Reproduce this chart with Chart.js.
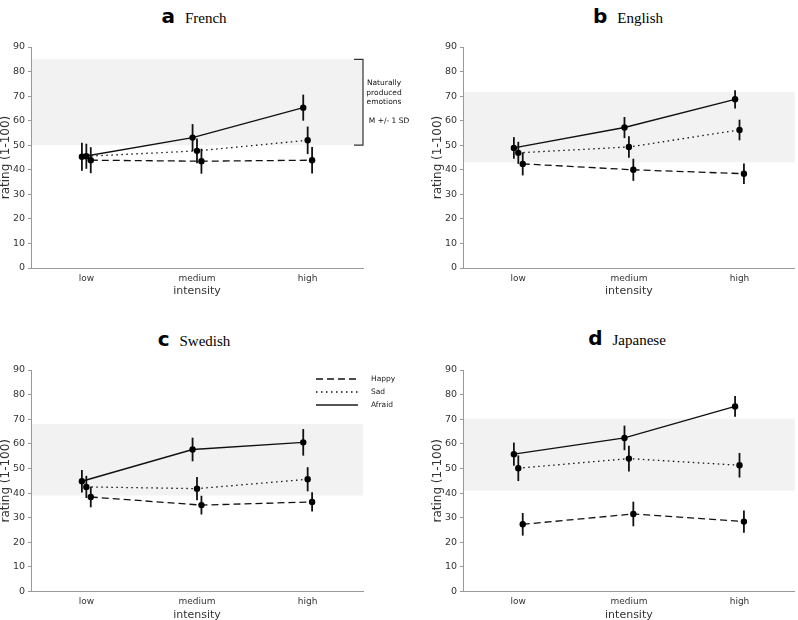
<!DOCTYPE html>
<html><head><meta charset="utf-8">
<script src="https://cdn.jsdelivr.net/npm/chart.js@4"></script>
<style>
html,body{margin:0;padding:0;background:#fff;}
body{width:798px;height:620px;position:relative;overflow:hidden;}
canvas{position:absolute;}
.title{position:absolute;white-space:nowrap;transform:translate(-50%,0);line-height:1;color:#000;}
.title b{font-family:"DejaVu Sans";font-weight:bold;font-size:20px;}
.title span{font-family:"Liberation Serif";font-size:15px;margin-left:10px;}
</style></head>
<body>
<div class="title" style="left:194px;top:6px;"><b>a</b><span>French</span></div>
<div class="title" style="left:628px;top:6px;"><b>b</b><span>English</span></div>
<div class="title" style="left:194px;top:329px;"><b>c</b><span>Swedish</span></div>
<div class="title" style="left:627px;top:328px;"><b>d</b><span>Japanese</span></div>
<canvas id="cb" width="398" height="320" style="left:400px;top:0"></canvas>
<canvas id="cd" width="398" height="320" style="left:400px;top:310px"></canvas>
<canvas id="ca" width="430" height="320" style="left:0;top:0"></canvas>
<canvas id="cc" width="430" height="320" style="left:0;top:310px"></canvas>
<script>
// ---- data ----
const categories = ['low', 'medium', 'high'];
const yTicks = [0, 10, 20, 30, 40, 50, 60, 70, 80, 90];
const legendOrder = ['Happy', 'Sad', 'Afraid'];

const frenchHappy = [43.9, 43.5, 43.9];
const frenchHappyErr = [5.3, 5.1, 5.4];
const frenchSad = [45.5, 47.7, 52.0];
const frenchSadErr = [5.1, 5.0, 5.6];
const frenchAfraid = [45.3, 53.1, 65.3];
const frenchAfraidErr = [5.7, 5.5, 5.3];
const frenchBand = [50.0, 85.0];

const englishHappy = [42.4, 40.0, 38.4];
const englishHappyErr = [4.7, 4.5, 4.2];
const englishSad = [46.9, 49.3, 56.2];
const englishSadErr = [4.5, 4.4, 4.2];
const englishAfraid = [48.9, 57.2, 68.7];
const englishAfraidErr = [4.4, 4.3, 3.7];
const englishBand = [43.0, 71.6];

const swedishHappy = [38.4, 35.1, 36.4];
const swedishHappyErr = [4.2, 3.8, 3.9];
const swedishSad = [42.5, 41.8, 45.6];
const swedishSadErr = [4.5, 4.7, 4.9];
const swedishAfraid = [44.8, 57.7, 60.6];
const swedishAfraidErr = [4.6, 4.8, 5.4];
const swedishBand = [39.0, 68.1];

const japaneseHappy = [27.3, 31.5, 28.4];
const japaneseHappyErr = [4.6, 5.0, 4.5];
const japaneseSad = [50.1, 54.0, 51.3];
const japaneseSadErr = [5.2, 5.2, 5.0];
const japaneseAfraid = [55.8, 62.4, 75.2];
const japaneseAfraidErr = [4.7, 5.0, 4.2];
const japaneseBand = [41.0, 70.2];

const noteLines = ['Naturally', 'produced', 'emotions'];
const noteSD = 'M +/- 1 SD';

// ---- drawing ----
Chart.defaults.font.family = '"DejaVu Sans"';
Chart.defaults.color = '#333';

const OFF = {Happy: 0.04, Sad: 0, Afraid: -0.04};
const STYLE = {
  Happy: {dash: [7, 4], width: 1.3},
  Sad: {dash: [1.5, 3.5], width: 1.3},
  Afraid: {dash: [], width: 1.4}
};

function ds(name, vals, errs) {
  return {
    label: name,
    data: vals.map((v, i) => ({x: i + OFF[name], y: v})),
    errors: errs,
    borderColor: '#111',
    borderWidth: STYLE[name].width,
    borderDash: STYLE[name].dash,
    pointRadius: 3.2,
    pointHoverRadius: 3.2,
    pointBackgroundColor: '#000',
    pointBorderWidth: 0,
    fill: false,
    tension: 0
  };
}

function makeChart(id, cfg) {
  const bandPlugin = {
    id: 'band',
    beforeDraw(chart) {
      const {ctx, chartArea: a, scales: {y}} = chart;
      ctx.save();
      ctx.fillStyle = '#f2f2f2';
      const t = y.getPixelForValue(cfg.band[1]), b = y.getPixelForValue(cfg.band[0]);
      ctx.fillRect(a.left, t, a.right - a.left, b - t);
      ctx.restore();
    }
  };
  const errPlugin = {
    id: 'errbars',
    beforeDatasetsDraw(chart) {
      const {ctx, scales: {y}} = chart;
      ctx.save();
      ctx.strokeStyle = '#111';
      ctx.lineWidth = 1.8;
      ctx.setLineDash([]);
      chart.data.datasets.forEach((d, di) => {
        const meta = chart.getDatasetMeta(di);
        meta.data.forEach((pt, i) => {
          const v = d.data[i].y, e = d.errors[i];
          ctx.beginPath();
          ctx.moveTo(pt.x, y.getPixelForValue(v - e));
          ctx.lineTo(pt.x, y.getPixelForValue(v + e));
          ctx.stroke();
        });
      });
      ctx.restore();
    }
  };
  const extraPlugin = {
    id: 'extra',
    afterDraw(chart) {
      const {ctx, chartArea: a, scales: {y}} = chart;
      ctx.save();
      if (cfg.note) {
        const y1 = y.getPixelForValue(cfg.band[1]), y2 = y.getPixelForValue(cfg.band[0]);
        ctx.strokeStyle = '#333';
        ctx.lineWidth = 1.2;
        ctx.beginPath();
        ctx.moveTo(a.right - 9, y1); ctx.lineTo(a.right, y1);
        ctx.lineTo(a.right, y2); ctx.lineTo(a.right - 9, y2);
        ctx.stroke();
        const mid = (y1 + y2) / 2;
        ctx.fillStyle = '#111';
        ctx.font = '7.5px "DejaVu Sans"';
        ctx.textAlign = 'center';
        ctx.textBaseline = 'middle';
        noteLines.forEach((t, i) => ctx.fillText(t, a.right + 21, mid - 19 + 9.5 * i));
        ctx.fillText(noteSD, a.right + 26, mid + 19);
      }
      if (cfg.legend) {
        ctx.font = '7.5px "DejaVu Sans"';
        ctx.fillStyle = '#222';
        ctx.textAlign = 'left';
        ctx.textBaseline = 'middle';
        legendOrder.forEach((name, i) => {
          const d = chart.data.datasets.find(q => q.label === name);
          const yy = a.top + 9 + 13 * i;
          ctx.strokeStyle = name === 'Afraid' ? '#555' : '#111';
          ctx.lineWidth = name === 'Afraid' ? 1.8 : d.borderWidth;
          ctx.setLineDash(d.borderDash);
          ctx.beginPath();
          ctx.moveTo(a.right - 47, yy); ctx.lineTo(a.right - 5, yy);
          ctx.stroke();
          ctx.fillText(name, a.right + 8, yy);
        });
      }
      ctx.restore();
    }
  };
  return new Chart(document.getElementById(id), {
    type: 'line',
    data: {datasets: [
      ds('Happy', cfg.happy, cfg.happyErr),
      ds('Sad', cfg.sad, cfg.sadErr),
      ds('Afraid', cfg.afraid, cfg.afraidErr)
    ]},
    options: {
      responsive: false,
      animation: false,
      devicePixelRatio: 1,
      events: [],
      layout: {padding: cfg.pad},
      plugins: {legend: {display: false}, tooltip: {enabled: false}},
      scales: {
        x: {
          type: 'linear', min: -0.5, max: 2.5,
          afterBuildTicks: s => { s.ticks = categories.map((c, i) => ({value: i})); },
          ticks: {callback: (v, i) => categories[i], font: {size: 9}, color: '#333', padding: 5, autoSkip: false, maxRotation: 0},
          grid: {display: false, drawTicks: false},
          border: {color: '#999', width: 1},
          title: {display: true, text: 'intensity', font: {size: 11, lineHeight: 1}, color: '#333', padding: 0},
          afterFit: s => { s.height = 29; }
        },
        y: {
          min: 0, max: 90,
          afterBuildTicks: s => { s.ticks = yTicks.map(v => ({value: v})); },
          ticks: {font: {size: 9.5}, color: '#333', padding: 3},
          grid: {display: true, drawOnChartArea: false, drawTicks: true, tickLength: 3, color: '#999'},
          border: {color: '#999', width: 1},
          title: {display: true, text: 'rating (1-100)', font: {size: 12, lineHeight: 1}, color: '#333', padding: 0},
          afterFit: s => { s.width = cfg.yW; }
        }
      }
    },
    plugins: [bandPlugin, errPlugin, extraPlugin]
  });
}

makeChart('ca', {happy: frenchHappy, happyErr: frenchHappyErr, sad: frenchSad, sadErr: frenchSadErr,
  afraid: frenchAfraid, afraidErr: frenchAfraidErr, band: frenchBand, note: true,
  pad: {left: 0, top: 47, right: 67, bottom: 23}, yW: 31});
makeChart('cb', {happy: englishHappy, happyErr: englishHappyErr, sad: englishSad, sadErr: englishSadErr,
  afraid: englishAfraid, afraidErr: englishAfraidErr, band: englishBand,
  pad: {left: 32, top: 47, right: 1, bottom: 23}, yW: 31});
makeChart('cc', {happy: swedishHappy, happyErr: swedishHappyErr, sad: swedishSad, sadErr: swedishSadErr,
  afraid: swedishAfraid, afraidErr: swedishAfraidErr, band: swedishBand, legend: true,
  pad: {left: 0, top: 60, right: 67, bottom: 9.5}, yW: 31});
makeChart('cd', {happy: japaneseHappy, happyErr: japaneseHappyErr, sad: japaneseSad, sadErr: japaneseSadErr,
  afraid: japaneseAfraid, afraidErr: japaneseAfraidErr, band: japaneseBand,
  pad: {left: 32, top: 60, right: 1, bottom: 9.5}, yW: 31});
</script>
</body></html>
